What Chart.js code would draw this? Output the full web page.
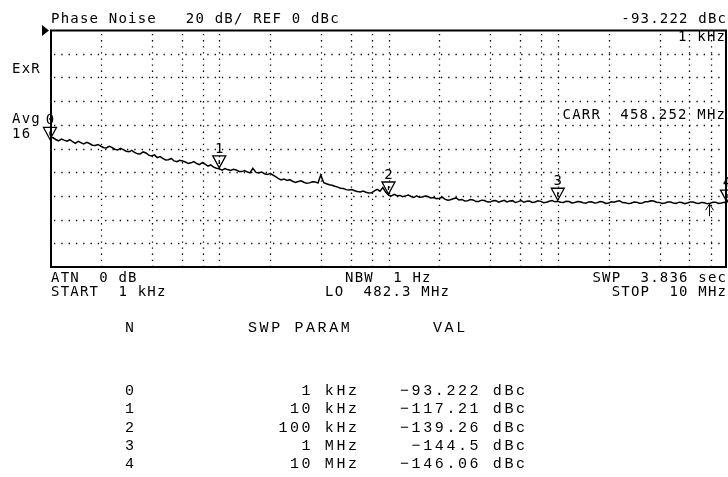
<!DOCTYPE html>
<html><head><meta charset="utf-8">
<script src="https://cdn.jsdelivr.net/npm/chart.js@4"></script>
<style>html,body{margin:0;padding:0;background:#fff;}canvas{display:block;}</style>
</head><body>
<canvas id="c" width="728" height="477"></canvas>
<script>
// Offset frequency (kHz) of the trace points
const freqKHz = [
  1,1.04,1.08,1.12,1.17,1.21,1.26,1.31,1.36,1.41,1.47,1.52,1.58,1.65,1.71,1.78,1.85,1.92,2,2.08,2.15,2.24,2.32,2.41,2.51,2.61,2.71,2.82,2.93,3.04,3.16,3.29,3.41,3.55,3.69,3.83,3.98,4.14,4.3,4.47,4.64,4.82,5.01,5.21,5.41,5.62,5.84,6.07,6.31,6.55,6.81,7.08,7.36,7.64,7.94,8.25,8.58,8.91,9.26,9.62,
  10,10.4,10.8,11.2,11.7,12.1,12.6,13.1,13.6,14.1,14.7,15.2,15.8,16.5,17.1,17.8,18.5,19.2,20,20.8,21.5,22.4,23.2,24.1,25.1,26.1,27.1,28.2,29.3,30.4,31.6,32.9,34.1,35.5,36.9,38.3,39.8,41.4,43,44.7,46.4,48.2,50.1,52.1,54.1,56.2,58.4,60.7,63.1,65.5,68.1,70.8,73.6,76.4,79.4,82.5,85.8,89.1,92.6,96.2,
  100,104,108,112,117,121,126,131,136,141,147,152,158,165,171,178,185,192,200,208,215,224,232,241,251,261,271,282,293,304,316,329,341,355,369,383,398,414,430,447,464,482,501,521,541,562,584,607,631,655,681,708,736,764,794,825,858,891,926,962,
  1000,1040,1080,1120,1170,1210,1260,1310,1360,1410,1470,1520,1580,1650,1710,1780,1850,1920,2000,2080,2150,2240,2320,2410,2510,2610,2710,2820,2930,3040,3160,3290,3410,3550,3690,3830,3980,4140,4300,4470,4640,4820,5010,5210,5410,5620,5840,6070,6310,6550,6810,7080,7360,7640,7940,8250,8580,8910,9260,9620,
  10000
];
// Phase noise trace (dBc/Hz)
const traceDb = [
  -91.5,-90.8,-92.4,-93.5,-92.0,-92.9,-93.8,-92.6,-94.3,-95.6,-94.0,-95.0,-96.2,-94.8,-95.8,-97.2,-97.5,-96.6,-98.1,-99.3,
  -99.6,-98.2,-99.0,-100.6,-101.3,-99.9,-100.9,-102.3,-102.8,-101.6,-103.3,-104.5,-104.6,-102.9,-103.8,-105.6,-106.3,-105.4,-107.7,-106.8,
  -108.3,-109.6,-109.5,-108.4,-110.5,-111.2,-109.9,-110.6,-111.4,-112.6,-112.1,-111.0,-112.7,-113.6,-112.0,-113.2,-114.9,-113.9,-115.7,-116.6,
  -117.2,-118.3,-116.9,-117.8,-118.6,-117.6,-118.1,-119.4,-119.5,-118.7,-119.9,-120.6,-116.8,-120.2,-120.7,-119.8,-121.3,-122.0,-120.9,-122.4,
  -123.8,-125.4,-126.5,-125.7,-127.0,-126.3,-127.6,-128.6,-127.9,-127.2,-128.5,-129.4,-129.0,-128.1,-128.2,-129.1,-122.3,-128.9,-129.8,-130.6,
  -131.0,-131.9,-132.6,-133.5,-133.8,-134.7,-135.1,-134.6,-135.6,-136.3,-136.6,-135.9,-136.9,-137.6,-137.4,-135.8,-134.4,-136.0,-133.0,-136.8,
  -139.3,-140.1,-138.7,-139.9,-139.6,-140.6,-140.0,-139.2,-140.5,-141.3,-140.0,-141.2,-141.0,-140.2,-140.5,-141.8,-141.4,-142.3,-142.0,-141.1,
  -142.7,-143.6,-143.3,-142.4,-141.7,-143.5,-143.0,-144.3,-144.2,-143.1,-143.4,-144.8,-144.7,-143.6,-143.9,-145.0,-145.2,-144.1,-143.8,-145.3,
  -144.5,-143.7,-145.1,-144.3,-144.0,-145.6,-144.8,-143.9,-145.4,-144.6,-144.4,-145.5,-145.1,-144.2,-144.6,-145.7,-145.4,-144.5,-143.9,-145.0,
  -144.5,-145.3,-145.6,-144.6,-144.8,-146.0,-145.5,-144.7,-145.0,-145.8,-146.1,-145.1,-144.9,-145.9,-145.7,-144.8,-145.2,-146.3,-146.0,-145.0,
  -145.3,-144.6,-144.2,-145.6,-145.8,-146.5,-146.2,-145.2,-145.4,-146.1,-145.9,-144.9,-145.0,-144.1,-144.3,-145.4,-145.5,-146.4,-146.0,-145.1,
  -145.2,-146.0,-146.3,-145.3,-145.6,-146.5,-146.0,-145.2,-145.1,-146.0,-146.4,-145.5,-145.8,-146.7,-146.2,-145.3,-145.4,-146.3,-146.0,-145.4,
  -146.06
];
const xGridKHz = [2,4,6,8,10,20,40,60,80,100,200,400,600,800,1000,2000,4000,6000,8000];
const yGridDb = [-20,-40,-60,-80,-100,-120,-140,-160,-180];
const markerN = [0,1,2,3,4];
const markerKHz = [1,10,100,1000,10000];
const markerDb = [-93.222,-117.21,-139.26,-144.5,-146.06];
const markerParam = ['1 kHz','10 kHz','100 kHz','1 MHz','10 MHz'];
const cursorKHz = [7800];
const cursorDb = [-147];

const SCR_FONT = '14px "DejaVu Sans Mono"';
const SCR_LS = 1.2;
const TAB_FONT = '15px "Liberation Mono"';
const TAB_LS = 2.6;

function txt(ctx, s, x, y, align, font, ls) {
  ctx.font = font;
  ctx.letterSpacing = ls + 'px';
  ctx.textAlign = align;
  ctx.textBaseline = 'alphabetic';
  ctx.fillText(s, align === 'right' ? x + ls : x, y);
}

const gridPlugin = {
  id: 'grid',
  beforeDatasetsDraw(chart) {
    const ctx = chart.ctx, a = chart.chartArea, xs = chart.scales.x, ys = chart.scales.y;
    ctx.save();
    ctx.strokeStyle = '#000';
    ctx.lineWidth = 1.3;
    ctx.setLineDash([1.3, 4.8]);
    xGridKHz.forEach(v => {
      const px = Math.round(xs.getPixelForValue(v)) + 0.5;
      ctx.beginPath(); ctx.moveTo(px, a.top + 4); ctx.lineTo(px, a.bottom); ctx.stroke();
    });
    ctx.setLineDash([1.3, 6]);
    yGridDb.forEach(v => {
      const py = Math.round(ys.getPixelForValue(v)) + 0.5;
      ctx.beginPath(); ctx.moveTo(a.left + 4, py); ctx.lineTo(a.right, py); ctx.stroke();
    });
    ctx.restore();
  }
};

const annoPlugin = {
  id: 'anno',
  afterDraw(chart) {
    const ctx = chart.ctx, a = chart.chartArea, xs = chart.scales.x, ys = chart.scales.y;
    ctx.save();
    ctx.fillStyle = '#000';
    ctx.strokeStyle = '#000';
    ctx.setLineDash([]);
    ctx.lineWidth = 2;
    ctx.strokeRect(a.left + 1, a.top + 0.5, a.right - a.left - 2, a.bottom - a.top - 0.5);
    ctx.beginPath(); ctx.moveTo(42, 25); ctx.lineTo(49, 30.5); ctx.lineTo(42, 36); ctx.closePath(); ctx.fill();
    txt(ctx, 'Phase Noise   20 dB/ REF 0 dBc', 51, 23, 'left', SCR_FONT, SCR_LS);
    txt(ctx, '-93.222 dBc', 726, 23, 'right', SCR_FONT, SCR_LS);
    txt(ctx, '1 kHz', 725, 41, 'right', SCR_FONT, SCR_LS);
    txt(ctx, 'ExR', 12, 73, 'left', SCR_FONT, SCR_LS);
    txt(ctx, 'Avg', 12, 123, 'left', SCR_FONT, SCR_LS);
    txt(ctx, '16', 12, 138, 'left', SCR_FONT, SCR_LS);
    txt(ctx, 'CARR  458.252 MHz', 725, 118.5, 'right', SCR_FONT, SCR_LS);
    txt(ctx, 'ATN  0 dB', 51, 282, 'left', SCR_FONT, SCR_LS);
    txt(ctx, 'START  1 kHz', 51, 296, 'left', SCR_FONT, SCR_LS);
    txt(ctx, 'NBW  1 Hz', 345, 282, 'left', SCR_FONT, SCR_LS);
    txt(ctx, 'LO  482.3 MHz', 325, 296, 'left', SCR_FONT, SCR_LS);
    txt(ctx, 'SWP  3.836 sec', 726, 282, 'right', SCR_FONT, SCR_LS);
    txt(ctx, 'STOP  10 MHz', 726, 296, 'right', SCR_FONT, SCR_LS);
    ctx.lineWidth = 1.3;
    markerN.forEach((n, i) => {
      const px = xs.getPixelForValue(markerKHz[i]);
      const py = ys.getPixelForValue(markerDb[i]);
      ctx.beginPath();
      ctx.moveTo(px - 6.5, py - 13); ctx.lineTo(px + 6.5, py - 13); ctx.lineTo(px, py - 1); ctx.closePath();
      ctx.stroke();
      ctx.beginPath(); ctx.moveTo(px, py - 9); ctx.lineTo(px, py - 5); ctx.stroke();
      txt(ctx, String(n), px + 0.6, py - 16, 'center', SCR_FONT, SCR_LS);
    });
    cursorKHz.forEach((f, i) => {
      const px = Math.round(xs.getPixelForValue(f)) + 0.5;
      const py = ys.getPixelForValue(cursorDb[i]);
      ctx.lineWidth = 1;
      ctx.beginPath();
      ctx.moveTo(px, py); ctx.lineTo(px, py + 12);
      ctx.moveTo(px - 4, py + 6); ctx.lineTo(px, py); ctx.lineTo(px + 4, py + 6);
      ctx.stroke();
    });
    txt(ctx, 'N', 125, 332, 'left', TAB_FONT, TAB_LS);
    txt(ctx, 'SWP PARAM', 248, 332, 'left', TAB_FONT, TAB_LS);
    txt(ctx, 'VAL', 433, 332, 'left', TAB_FONT, TAB_LS);
    markerN.forEach((n, i) => {
      const y = 395 + i * 18.3;
      txt(ctx, String(n), 125, y, 'left', TAB_FONT, TAB_LS);
      txt(ctx, markerParam[i], 357, y, 'right', TAB_FONT, TAB_LS);
      txt(ctx, String(markerDb[i]).replace('-', '\u2212') + ' dBc', 525, y, 'right', TAB_FONT, TAB_LS);
    });
    ctx.restore();
  }
};

new Chart(document.getElementById('c'), {
  type: 'line',
  data: {
    datasets: [{
      data: freqKHz.map((f, i) => ({ x: f, y: traceDb[i] })),
      borderColor: '#000',
      borderWidth: 1.5,
      pointRadius: 0,
      tension: 0,
      fill: false
    }]
  },
  options: {
    responsive: false,
    animation: false,
    layout: { padding: { left: 50, top: 30, right: 1, bottom: 210 } },
    scales: {
      x: { type: 'logarithmic', min: 1, max: 10000, display: false },
      y: { type: 'linear', min: -200, max: 0, display: false }
    },
    plugins: { legend: { display: false }, tooltip: { enabled: false } }
  },
  plugins: [gridPlugin, annoPlugin]
});
</script>
</body></html>
